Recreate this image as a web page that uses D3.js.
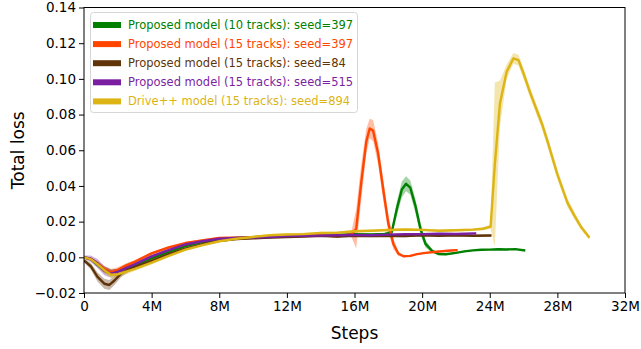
<!DOCTYPE html>
<html><head><meta charset="utf-8">
<script src="https://cdn.jsdelivr.net/npm/d3@7"></script>
<style>body{margin:0;background:#fff}svg{display:block;font-family:"DejaVu Sans",sans-serif}</style>
</head><body><svg id="c" width="641" height="349"></svg>
<script>
const xTicks = [0,4,8,12,16,20,24,28,32];
const xTickLabels = ["0","4M","8M","12M","16M","20M","24M","28M","32M"];
const yTicks = [-0.02,0,0.02,0.04,0.06,0.08,0.10,0.12,0.14];
const yTickLabels = ["\u22120.02","0.00","0.02","0.04","0.06","0.08","0.10","0.12","0.14"];

const names = ["Proposed model (10 tracks): seed=397","Proposed model (15 tracks): seed=397","Proposed model (15 tracks): seed=84","Proposed model (15 tracks): seed=515","Drive++ model (15 tracks): seed=894"];
const colors = ["#008000","#ff4500","#603408","#7b1fa2","#dcb414"];

// steps in millions
const greenSteps = [0,0.4,0.8,1.2,1.6,2,2.5,3,4,5,6,7,8,9,10,11,12,13,14,15,16,17,17.8,18.2,18.5,18.8,19.05,19.3,19.6,19.9,20.2,20.6,21.0,21.4,22,22.5,23,23.5,24,24.5,25,25.5,26.1];
const greenMean  = [0,-0.001,-0.004,-0.007,-0.0085,-0.008,-0.006,-0.0045,-0.0005,0.003,0.0063,0.0085,0.0102,0.0108,0.0113,0.0118,0.0122,0.0124,0.0128,0.0126,0.013,0.0128,0.0131,0.014,0.027,0.038,0.0412,0.039,0.029,0.016,0.0075,0.0035,0.0018,0.0017,0.0025,0.0033,0.0039,0.0042,0.0043,0.0045,0.0044,0.0046,0.0038];
const greenSpread= [0.0005,0.001,0.0015,0.0018,0.0018,0.0015,0.0012,0.001,0.0008,0.0006,0.0006,0.0006,0.0006,0.0006,0.0005,0.0005,0.0005,0.0005,0.0005,0.0005,0.0005,0.0005,0.0006,0.002,0.004,0.0045,0.0042,0.004,0.004,0.0035,0.002,0.001,0.0006,0.0005,0.0004,0.0004,0.0004,0.0004,0.0004,0.0004,0.0004,0.0004,0.0004];

const orangeSteps = [0,0.4,0.8,1.2,1.6,2,2.5,3,4,5,6,7,8,9,10,11,12,13,14,15,15.8,16.1,16.4,16.7,16.9,17.1,17.4,17.7,18.0,18.3,18.6,18.9,19.3,19.7,20.2,20.7,21.2,21.7,22.1];
const orangeMean  = [0,-0.001,-0.0035,-0.0065,-0.0083,-0.007,-0.0045,-0.0025,0.0022,0.0055,0.008,0.0095,0.0108,0.011,0.0112,0.0118,0.0121,0.0125,0.0124,0.0118,0.0128,0.016,0.042,0.065,0.0722,0.071,0.058,0.038,0.019,0.0075,0.002,0.0006,0.0008,0.0018,0.0025,0.003,0.0034,0.0038,0.004];
const orangeSpread= [0.0005,0.001,0.0015,0.0018,0.0018,0.0015,0.0012,0.001,0.0008,0.0006,0.0006,0.0006,0.0006,0.0006,0.0005,0.0005,0.0005,0.0005,0.0005,0.0006,0.001,0.011,0.01,0.007,0.0055,0.006,0.006,0.006,0.005,0.003,0.0012,0.0006,0.0005,0.0004,0.0004,0.0004,0.0004,0.0004,0.0004];

const brownSteps = [0,0.4,0.8,1.2,1.5,1.8,2.2,2.6,3,4,5,6,7,8,9,10,11,12,13,14,15,16,17,18,19,20,21,22,23,24.1];
const brownMean  = [-0.0018,-0.005,-0.011,-0.0148,-0.0155,-0.013,-0.009,-0.007,-0.0055,-0.002,0.0018,0.0048,0.0073,0.0093,0.0103,0.0107,0.0111,0.0114,0.0117,0.012,0.0117,0.0121,0.0119,0.0121,0.0119,0.0124,0.0121,0.0123,0.0121,0.0122];
const brownSpread= [0.001,0.0018,0.0025,0.0028,0.0028,0.0025,0.002,0.0015,0.0012,0.001,0.0008,0.0008,0.0008,0.0007,0.0007,0.0006,0.0006,0.0006,0.0006,0.0006,0.0006,0.0006,0.0006,0.0006,0.0006,0.0006,0.0006,0.0006,0.0006,0.0006];

const purpleSteps = [0,0.4,0.8,1.2,1.6,2,2.5,3,4,5,6,7,8,9,10,11,12,13,14,15,16,17,18,19,20,21,22,23.2];
const purpleMean  = [0,-0.0008,-0.0035,-0.0075,-0.0092,-0.0082,-0.006,-0.004,0.0005,0.004,0.0072,0.009,0.0104,0.0109,0.0111,0.0114,0.0119,0.0121,0.0122,0.0124,0.0125,0.0124,0.0127,0.0129,0.013,0.0132,0.0131,0.0134];
const purpleSpread= [0.001,0.0018,0.0025,0.0025,0.0022,0.0018,0.0014,0.0012,0.0009,0.0007,0.0006,0.0006,0.0006,0.0005,0.0005,0.0005,0.0005,0.0005,0.0005,0.0005,0.0005,0.0005,0.0005,0.0005,0.0005,0.0005,0.0005,0.0005];

const yellowSteps = [0,0.4,0.8,1.2,1.6,2,2.5,3,4,5,6,7,8,9,10,11,12,13,14,15,16,17,18,19,20,21,22,23,23.6,24.05,24.3,24.6,25.0,25.4,25.7,26.0,26.4,26.8,27.1,27.4,27.7,28.0,28.3,28.6,29.0,29.4,29.9];
const yellowMean  = [0,-0.001,-0.0038,-0.0072,-0.0098,-0.0095,-0.008,-0.0065,-0.003,0.0008,0.0043,0.0068,0.009,0.0104,0.0114,0.0124,0.0128,0.013,0.0136,0.0138,0.0146,0.0149,0.0153,0.0156,0.0154,0.0149,0.0152,0.0155,0.016,0.0172,0.052,0.086,0.104,0.1115,0.1105,0.103,0.092,0.082,0.0745,0.0655,0.056,0.0465,0.0385,0.0305,0.0235,0.017,0.011];
const yellowSpread= [0.0006,0.001,0.0015,0.0018,0.002,0.0018,0.0015,0.0012,0.001,0.0008,0.0007,0.0007,0.0007,0.0007,0.0007,0.0007,0.0007,0.0007,0.0007,0.0007,0.0007,0.0007,0.0007,0.0007,0.0007,0.0007,0.0007,0.0007,0.0008,0.0012,0.046,0.013,0.004,0.003,0.003,0.003,0.003,0.003,0.003,0.003,0.003,0.0028,0.0026,0.0025,0.002,0.0015,0.0012];

const allSteps = [greenSteps,orangeSteps,brownSteps,purpleSteps,yellowSteps];
const allMean = [greenMean,orangeMean,brownMean,purpleMean,yellowMean];
const allSpread = [greenSpread,orangeSpread,brownSpread,purpleSpread,yellowSpread];

const svg = d3.select("#c");
const L=84, R=625, T=7.5, B=293;
const x = d3.scaleLinear().domain([0,32]).range([L,R]);
const y = d3.scaleLinear().domain([-0.02,0.14]).range([B,T]);

svg.append("defs").append("clipPath").attr("id","clip").append("rect")
  .attr("x",L).attr("y",T).attr("width",R-L).attr("height",B-T);
const plot = svg.append("g").attr("clip-path","url(#clip)");

const area = d3.area().x(d=>x(d.s)).y0(d=>y(d.m-d.e)).y1(d=>y(d.m+d.e));
const line = d3.line().x(d=>x(d.s)).y(d=>y(d.m));

allSteps.forEach((st,i)=>{
  const data = st.map((s,j)=>({s:s,m:allMean[i][j],e:allSpread[i][j]}));
  plot.append("path").datum(data).attr("d",area).attr("fill",colors[i]).attr("fill-opacity",0.35).attr("stroke","none");
});
allSteps.forEach((st,i)=>{
  const data = st.map((s,j)=>({s:s,m:allMean[i][j],e:allSpread[i][j]}));
  plot.append("path").datum(data).attr("d",line).attr("fill","none").attr("stroke",colors[i]).attr("stroke-width",2.4).attr("stroke-linejoin","round");
});

// axes
const xAxis = d3.axisBottom(x).tickValues(xTicks).tickFormat((d,i)=>xTickLabels[i]).tickSize(5).tickPadding(3);
const yAxis = d3.axisLeft(y).tickValues(yTicks).tickFormat((d,i)=>yTickLabels[i]).tickSize(5).tickPadding(3);
const gx = svg.append("g").attr("transform",`translate(0,${B})`).call(xAxis);
const gy = svg.append("g").attr("transform",`translate(${L},0)`).call(yAxis);
[gx,gy].forEach(g=>{
  g.select(".domain").remove();
  g.selectAll("text").attr("font-size",13.5).attr("fill","#000").attr("font-family","DejaVu Sans");
  g.selectAll("line").attr("stroke","#000").attr("stroke-width",1);
});
svg.append("rect").attr("x",L).attr("y",T).attr("width",R-L).attr("height",B-T)
  .attr("fill","none").attr("stroke","#000").attr("stroke-width",1);

svg.append("text").attr("x",(L+R)/2).attr("y",339).attr("text-anchor","middle")
  .attr("font-size",17).text("Steps");
svg.append("text").attr("transform",`translate(24,${(T+B)/2}) rotate(-90)`).attr("text-anchor","middle")
  .attr("font-size",17).text("Total loss");

// legend
const lg = svg.append("g");
lg.append("rect").attr("x",90.5).attr("y",12.5).attr("width",267).attr("height",100).attr("rx",3)
  .attr("fill","#fff").attr("fill-opacity",0.85).attr("stroke","#d6d6d6").attr("stroke-width",1);
names.forEach((n,i)=>{
  const cy = 25 + i*19.1;
  lg.append("line").attr("x1",93).attr("x2",121).attr("y1",cy).attr("y2",cy)
    .attr("stroke",colors[i]).attr("stroke-width",6);
  lg.append("text").attr("x",128).attr("y",cy+4).attr("font-size",11.5).attr("fill",colors[i]).text(n);
});
</script></body></html>
